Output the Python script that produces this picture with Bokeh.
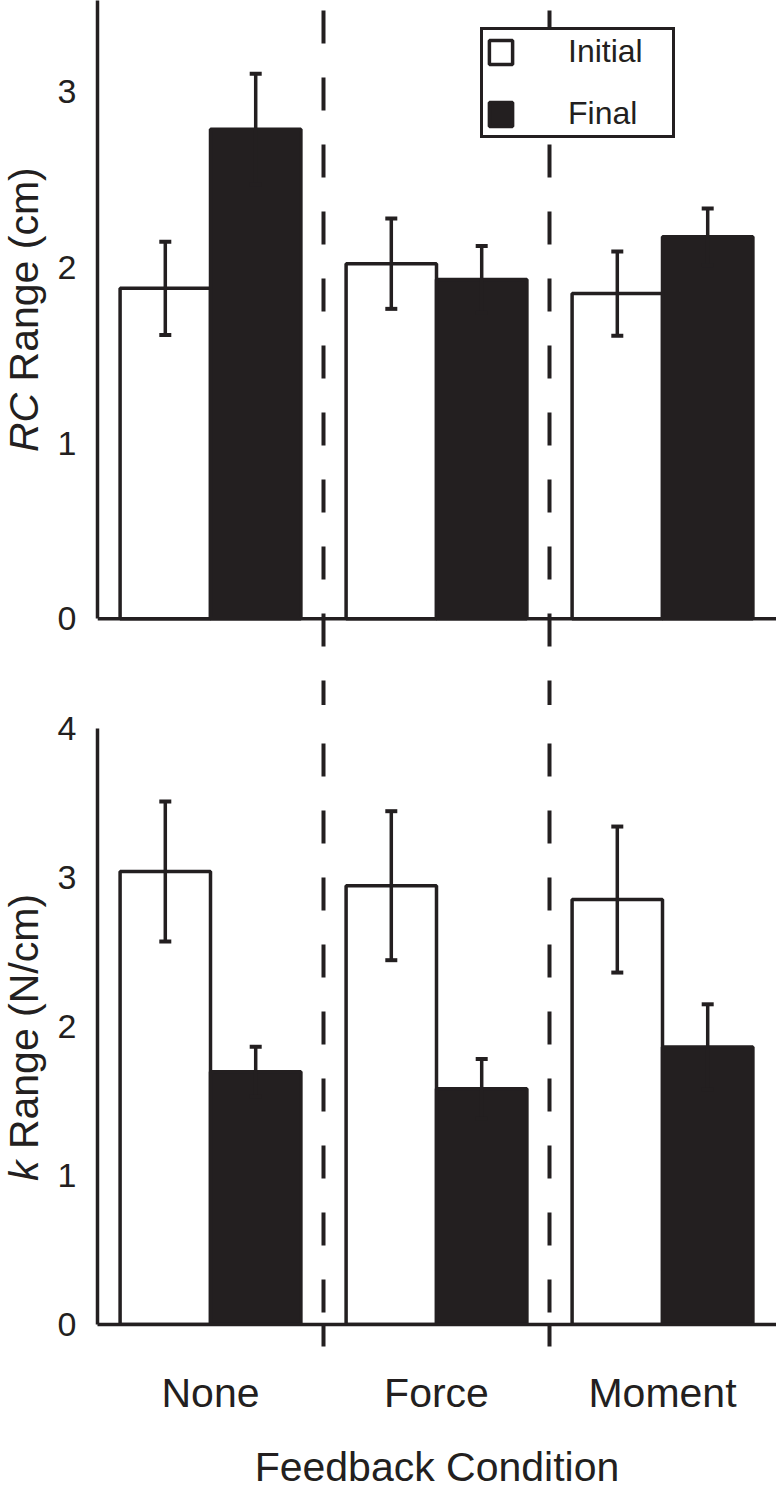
import math
from bokeh.plotting import figure
from bokeh.models import (Range1d, FixedTicker, Span, Whisker, TeeHead, ColumnDataSource,
                          Legend, LegendItem)
from bokeh.layouts import column, row
from bokeh.core.properties import value
from bokeh.embed import file_html
from bokeh.resources import INLINE

# ---------------- data ----------------
conditions = ["None", "Force", "Moment"]
series = ["Initial", "Final"]

rc_initial = [1.88, 2.02, 1.85]
rc_initial_err = [0.265, 0.257, 0.24]
rc_final = [2.785, 1.93, 2.173]
rc_final_err = [0.315, 0.19, 0.161]

k_initial = [3.04, 2.945, 2.852]
k_initial_err = [0.47, 0.50, 0.49]
k_final = [1.696, 1.582, 1.862]
k_final_err = [0.168, 0.20, 0.287]

rc_ticks = [0, 1, 2, 3]
k_ticks = [0, 1, 2, 3, 4]

rc_title = ("RC", "Range (cm)")
k_title = ("k", "Range (N/cm)")
x_title = "Feedback Condition"

# ---------------- style / layout ----------------
INK = "#231f20"
FONT = "Liberation Sans"
TOTAL_W = 776
TITLE_W = 48
W = TOTAL_W - TITLE_W
LEFT = 97 - TITLE_W
GROUP_PX = 226.0
XMAX = (W - LEFT) / GROUP_PX

TOP_H = 705
TOP_ZERO = 618.3      # px (from canvas top) of value 0 in the top panel
TOP_PPU = 175.8

BOT_MT = 23
BOT_FRAME = 618
BOT_MB = 146
BOT_H = BOT_MT + BOT_FRAME + BOT_MB
TOTAL_H = TOP_H + BOT_H

BAR_W = 0.4
LW = 3.5
TITLE_FS = 41


def style_common(p):
    p.grid.visible = False
    p.outline_line_color = None
    p.background_fill_color = "white"
    p.border_fill_color = "white"
    for ax in p.yaxis:
        ax.axis_line_width = LW
        ax.axis_line_color = INK
        ax.major_tick_in = 0
        ax.major_tick_out = 0
        ax.minor_tick_in = 0
        ax.minor_tick_out = 0
        ax.major_label_text_font = FONT
        ax.major_label_text_font_size = "34px"
        ax.major_label_text_color = INK
        ax.major_label_standoff = 21


def draw_bars(p, initial, ierr, final, ferr, dash_offset):
    n = len(conditions)
    xs_i = [i + 0.5 - BAR_W / 2 for i in range(n)]
    xs_f = [i + 0.5 + BAR_W / 2 for i in range(n)]
    for k in range(1, n):
        p.add_layout(Span(location=k, dimension="height", line_color=INK, line_width=4,
                          line_dash="33 34", line_dash_offset=dash_offset))
    src_i = ColumnDataSource(dict(x=xs_i, top=initial,
                                  upper=[v + e for v, e in zip(initial, ierr)],
                                  lower=[v - e for v, e in zip(initial, ierr)]))
    src_f = ColumnDataSource(dict(x=xs_f, top=final,
                                  upper=[v + e for v, e in zip(final, ferr)],
                                  lower=[v - e for v, e in zip(final, ferr)]))
    ri = p.vbar(x="x", top="top", bottom=0, width=BAR_W, source=src_i,
                fill_color="white", line_color=INK, line_width=LW)
    rf = p.vbar(x="x", top="top", bottom=0, width=BAR_W, source=src_f,
                fill_color=INK, line_color=INK, line_width=LW)
    for src in (src_i, src_f):
        p.add_layout(Whisker(source=src, base="x", upper="upper", lower="lower",
                             line_color=INK, line_width=LW, level="annotation",
                             upper_head=TeeHead(size=12, line_color=INK, line_width=4),
                             lower_head=TeeHead(size=12, line_color=INK, line_width=4)))
    return ri, rf


# ---------------- top panel ----------------
top = figure(width=W, height=TOP_H, x_range=Range1d(0, XMAX),
             y_range=Range1d(-(TOP_H - TOP_ZERO) / TOP_PPU, TOP_ZERO / TOP_PPU),
             output_backend="svg", toolbar_location=None, x_axis_location=None,
             min_border_left=LEFT, min_border_right=0, min_border_top=0, min_border_bottom=0)
style_common(top)
top.yaxis.ticker = FixedTicker(ticks=rc_ticks, minor_ticks=[])
top.yaxis.bounds = (0, TOP_ZERO / TOP_PPU)
top.add_layout(Span(location=0, dimension="width", line_color=INK, line_width=LW))
ri, rf = draw_bars(top, rc_initial, rc_initial_err, rc_final, rc_final_err, 57)
legend = Legend(items=[LegendItem(label=series[0], renderers=[ri]),
                       LegendItem(label=series[1], renderers=[rf])],
                location=(383, TOP_H - 138), padding=3, spacing=25, glyph_width=29,
                glyph_height=30, label_height=36, label_width=101, label_standoff=53, margin=0,
                label_text_font=FONT, label_text_font_size="32px", label_text_color=INK,
                border_line_color=INK, border_line_width=3, border_line_alpha=1.0,
                background_fill_color="white", background_fill_alpha=1.0)
top.add_layout(legend)

# ---------------- bottom panel ----------------
bot = figure(width=W, height=BOT_H, x_range=Range1d(0, XMAX), y_range=Range1d(0, 4),
             output_backend="svg", toolbar_location=None,
             min_border_left=LEFT, min_border_right=0, min_border_top=BOT_MT,
             min_border_bottom=BOT_MB)
style_common(bot)
bot.yaxis.ticker = FixedTicker(ticks=k_ticks, minor_ticks=[])
draw_bars(bot, k_initial, k_initial_err, k_final, k_final_err, 52)
xa = bot.xaxis[0]
centers = [i + 0.5 for i in range(len(conditions))]
xa.ticker = FixedTicker(ticks=centers, minor_ticks=list(range(1, len(conditions))))
xa.major_label_overrides = {c: name for c, name in zip(centers, conditions)}
xa.axis_line_width = LW
xa.axis_line_color = INK
xa.major_tick_in = 0
xa.major_tick_out = 0
xa.minor_tick_in = 0
xa.minor_tick_out = 22
xa.minor_tick_line_width = 4
xa.minor_tick_line_color = INK
xa.major_label_text_font = FONT
xa.major_label_text_font_size = "41px"
xa.major_label_text_color = INK
xa.major_label_standoff = 23
xa.axis_label = x_title
xa.axis_label_text_font = FONT
xa.axis_label_text_font_size = "41px"
xa.axis_label_text_font_style = "normal"
xa.axis_label_text_color = INK
xa.axis_label_standoff = 25

# ---------------- rotated y titles (left strip) ----------------
ttl = figure(width=TITLE_W, height=TOTAL_H, x_range=Range1d(0, TITLE_W),
             y_range=Range1d(0, TOTAL_H), output_backend="svg", toolbar_location=None,
             x_axis_location=None, y_axis_location=None,
             min_border_left=0, min_border_right=0, min_border_top=0, min_border_bottom=0)
ttl.grid.visible = False
ttl.outline_line_color = None

CHAR_W = {"R": .722, "a": .556, "n": .556, "g": .556, "e": .556, " ": .278, "(": .333,
          "c": .5, "m": .833, ")": .333, "N": .722, "/": .278, "C": .722, "k": .5}


def text_w(s):
    return sum(CHAR_W.get(ch, .556) for ch in s) * TITLE_FS


def add_rot_title(italic, rest, center_canvas_y):
    it_w = text_w(italic)
    gap = text_w(" ")
    total = it_w + gap + text_w(rest)
    start = center_canvas_y + total / 2
    mid_x = TITLE_W / 2 - 0.5
    ttl.text(x=[mid_x], y=[TOTAL_H - start], text=[italic], angle=math.pi / 2,
             text_font=value(FONT), text_font_style="italic", text_font_size=value(f"{TITLE_FS}px"),
             text_color=INK, text_align="left", text_baseline="middle")
    ttl.text(x=[mid_x], y=[TOTAL_H - (start - it_w - gap)], text=[rest], angle=math.pi / 2,
             text_font=value(FONT), text_font_style="normal", text_font_size=value(f"{TITLE_FS}px"),
             text_color=INK, text_align="left", text_baseline="middle")


add_rot_title(rc_title[0], rc_title[1], TOP_ZERO / 2)
add_rot_title(k_title[0], k_title[1], TOP_H + BOT_MT + BOT_FRAME / 2)

layout = row(ttl, column(top, bot, spacing=0), spacing=0)
open("out.html", "w").write(file_html(layout, INLINE))
